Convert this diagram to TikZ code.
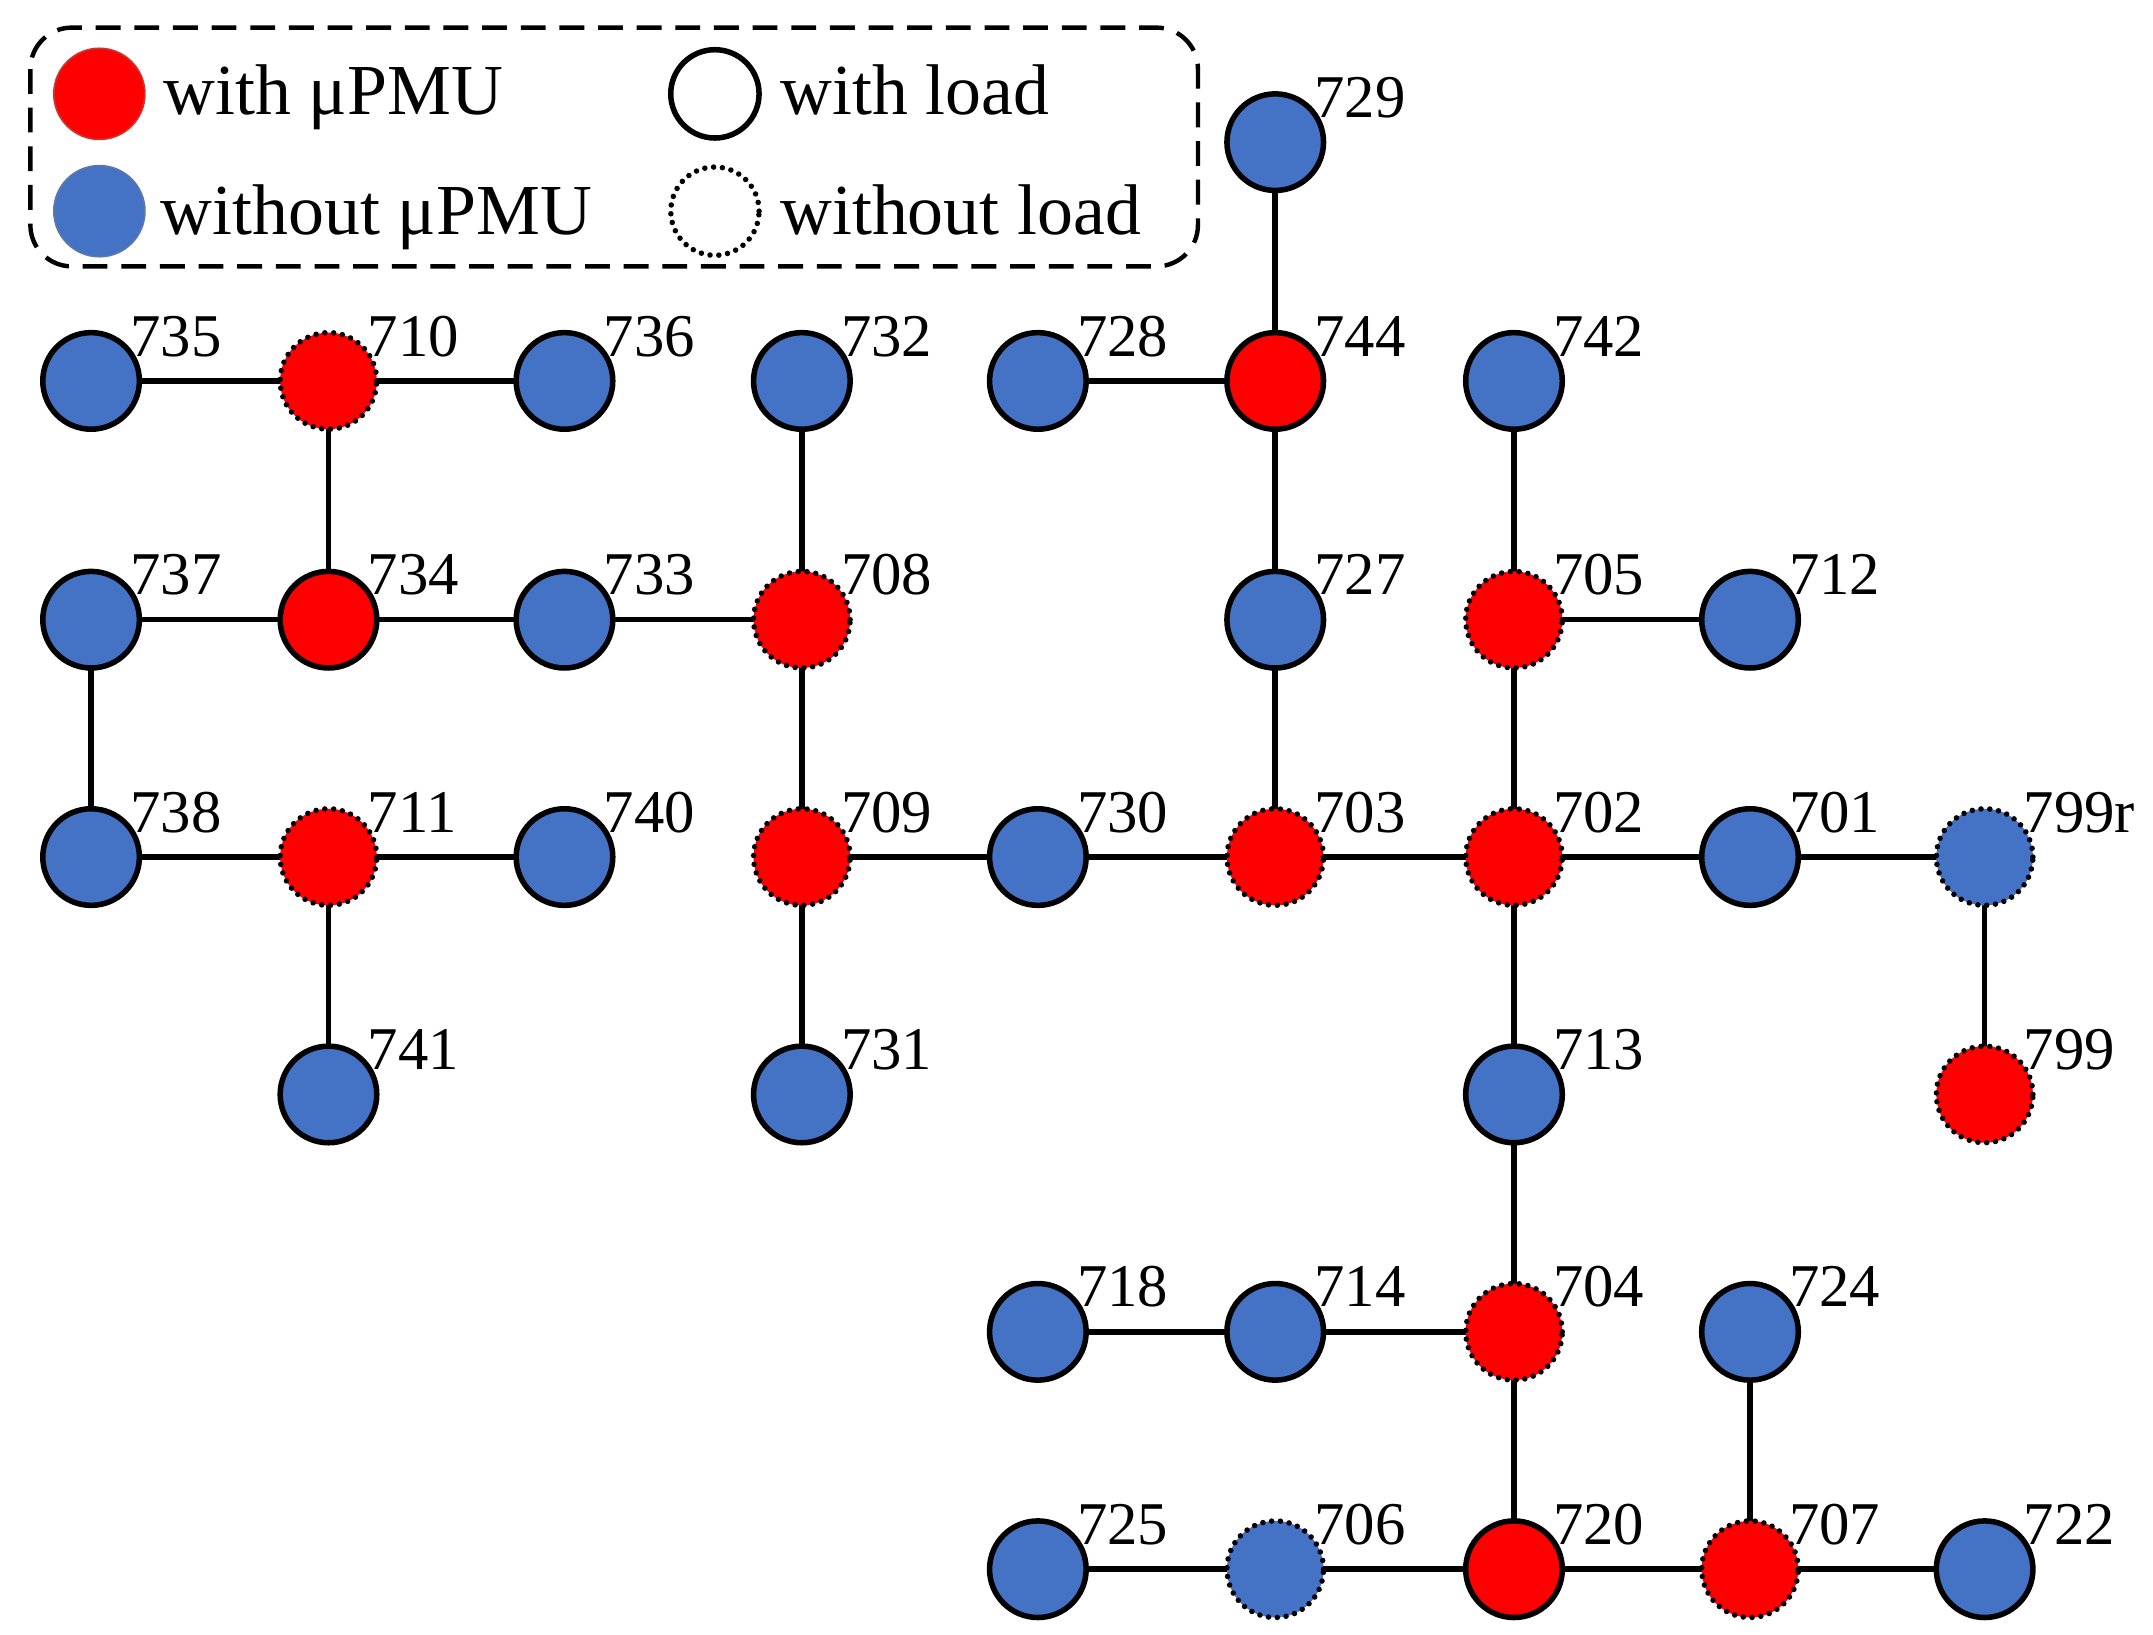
\documentclass[tikz,border=0pt]{standalone}
\usepackage{fontspec}
\setmainfont{Liberation Serif}
\definecolor{nblue}{RGB}{68,114,196}
\definecolor{nred}{RGB}{255,0,0}
\begin{document}
\begin{tikzpicture}[x=0.5pt,y=-0.5pt,
  bus/.style={circle,minimum size=35pt,inner sep=0pt,line width=2pt,draw=black},
  R/.style={bus,fill=nred},
  B/.style={bus,fill=nblue},
  dot/.style={dash pattern=on 0pt off 3.2pt,line cap=round},
  lbl/.style={anchor=base west,font=\fontsize{22}{26}\selectfont,inner sep=0pt},
  ln/.style={line width=2pt}]
\useasboundingbox (0,0) rectangle (1560,1184);
% legend
\draw[line width=1.6pt,dash pattern=on 9pt off 5pt,rounded corners=15pt] (22,20) rectangle (868,193);
\node[circle,minimum size=33pt,inner sep=0pt,fill=nred,draw=nred!60!gray,line width=0.6pt] (lr) at (72,68) {};
\node[circle,minimum size=33pt,inner sep=0pt,fill=nblue,draw=nblue!60!gray,line width=0.6pt] (lb) at (72,153) {};
\node[circle,minimum size=32pt,inner sep=0pt,draw,line width=2pt] (lw) at (518,68) {};
\node[circle,minimum size=32pt,inner sep=0pt,draw,line width=2pt,dot] (ld) at (518,153) {};
\tikzset{leg/.style={anchor=base west,font=\fontsize{26}{30}\selectfont,inner sep=0pt}}
\node[leg] (t1) at (118,83) {with μPMU};
\node[leg] (t2) at (116,170) {without μPMU};
\node[leg] (t3) at (565,83) {with load};
\node[leg] (t4) at (565,170) {without load};
% edges first
\foreach \n/\x/\y/\s/\d in {
729/924/103/B/0, 735/66/276/B/0, 710/238/276/R/1, 736/409/276/B/0, 732/581/276/B/0, 728/752/276/B/0, 744/924/276/R/0, 742/1097/276/B/0,
737/66/449/B/0, 734/238/449/R/0, 733/409/449/B/0, 708/581/449/R/1, 727/924/449/B/0, 705/1097/449/R/1, 712/1268/449/B/0,
738/66/621/B/0, 711/238/621/R/1, 740/409/621/B/0, 709/581/621/R/1, 730/752/621/B/0, 703/924/621/R/1, 702/1097/621/R/1, 701/1268/621/B/0, 799r/1438/621/B/1,
741/238/793/B/0, 731/581/793/B/0, 713/1097/793/B/0, 799/1438/793/R/1,
718/752/965/B/0, 714/924/965/B/0, 704/1097/965/R/1, 724/1268/965/B/0,
725/752/1137/B/0, 706/924/1137/B/1, 720/1097/1137/R/0, 707/1268/1137/R/1, 722/1438/1137/B/0}{
  \coordinate (c\n) at (\x,\y);
  \node[lbl] (l\n) at (\x+28,\y-18) {\n};
}
\foreach \a/\b in {729/744,735/710,710/736,710/734,732/708,728/744,744/727,742/705,737/734,734/733,733/708,727/703,705/712,705/702,737/738,738/711,711/740,711/741,708/709,709/730,730/703,703/702,702/701,701/799r,799r/799,709/731,702/713,713/704,718/714,714/704,704/720,725/706,706/720,720/707,707/722,724/707}
  \draw[ln] (c\a) -- (c\b);
\foreach \n/\s/\d in {729/B/0,735/B/0,710/R/1,736/B/0,732/B/0,728/B/0,744/R/0,742/B/0,737/B/0,734/R/0,733/B/0,708/R/1,727/B/0,705/R/1,712/B/0,738/B/0,711/R/1,740/B/0,709/R/1,730/B/0,703/R/1,702/R/1,701/B/0,799r/B/1,741/B/0,731/B/0,713/B/0,799/R/1,718/B/0,714/B/0,704/R/1,724/B/0,725/B/0,706/B/1,720/R/0,707/R/1,722/B/0}{
  \ifnum\d=1
    \node[\s,dot] (n\n) at (c\n) {};
  \else
    \node[\s] (n\n) at (c\n) {};
  \fi
}
\end{tikzpicture}
\end{document}
